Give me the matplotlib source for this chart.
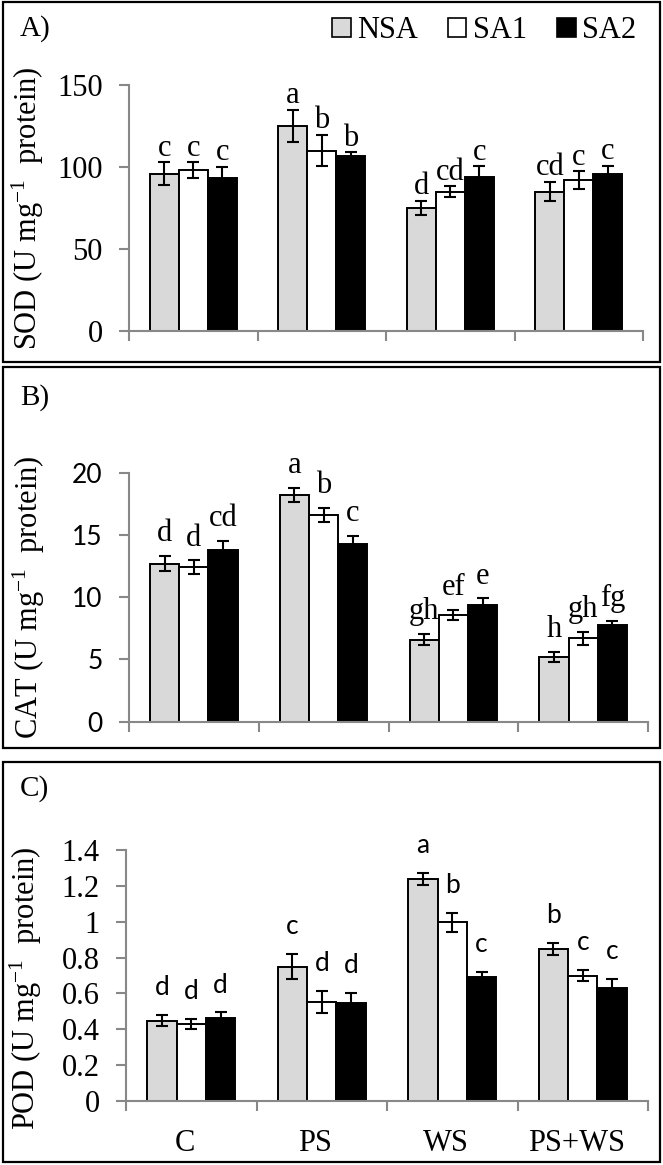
import matplotlib
matplotlib.use("Agg")
import matplotlib.pyplot as plt
from matplotlib.patches import Patch, Rectangle
import numpy as np

plt.rcParams['font.family'] = ['Liberation Serif', 'DejaVu Serif']
plt.rcParams['mathtext.fontset'] = 'custom'
plt.rcParams['mathtext.rm'] = 'Liberation Serif'
plt.rcParams['mathtext.it'] = 'Liberation Serif:italic'

treatments = ["C", "PS", "WS", "PS+WS"]
series = ["NSA", "SA1", "SA2"]

sod_mean = [[96, 125, 75, 85], [98, 110, 85, 92], [93, 107, 94, 96]]
sod_err = [[7, 10, 4.3, 6], [5, 9.5, 3.3, 5.3], [7, 2, 6.5, 4.7]]
sod_let = [["c", "a", "d", "cd"], ["c", "b", "cd", "c"], ["c", "b", "c", "c"]]

cat_mean = [[12.7, 18.2, 6.6, 5.2], [12.4, 16.6, 8.6, 6.7], [13.8, 14.3, 9.4, 7.8]]
cat_err = [[0.6, 0.55, 0.47, 0.43], [0.55, 0.55, 0.4, 0.54], [0.7, 0.6, 0.5, 0.3]]
cat_let = [["d", "a", "gh", "h"], ["d", "b", "ef", "gh"], ["cd", "c", "e", "fg"]]

pod_mean = [[0.448, 0.75, 1.238, 0.848], [0.43, 0.554, 0.997, 0.70], [0.465, 0.547, 0.69, 0.632]]
pod_err = [[0.032, 0.07, 0.033, 0.036], [0.03, 0.062, 0.053, 0.03], [0.03, 0.055, 0.03, 0.048]]
pod_let = [["d", "c", "a", "b"], ["d", "d", "b", "c"], ["d", "d", "c", "c"]]

colors = ["#d9d9d9", "white", "black"]
grey = "#888888"
sans = ["Lato", "DejaVu Sans"]
serif = ["Liberation Serif", "DejaVu Serif"]

W, H = 663, 1165
fig = plt.figure(figsize=(W / 100, H / 100), dpi=100)


def px_axes(left, right, top, bottom):
    return fig.add_axes([left / W, 1 - bottom / H, (right - left) / W, (bottom - top) / H])


def panel(ax, means, errs, lets, ymax, step, ylabel, tickfont, letfont, letoff, letsize, fmt):
    x = np.arange(len(treatments))
    w = 0.225
    for i in range(len(series)):
        ax.bar(x + (i - 1) * w, means[i], w, color=colors[i], edgecolor="black",
               linewidth=1.4, yerr=errs[i], capsize=4,
               error_kw=dict(elinewidth=1.5, capthick=1.5, ecolor="black"), zorder=2)
        for j in range(len(treatments)):
            ax.text(x[j] + (i - 1) * w, means[i][j] + errs[i][j] + letoff, lets[i][j],
                    ha="center", va="baseline", fontsize=letsize, family=letfont)
    ax.set_xlim(-0.5, len(treatments) - 0.5)
    ax.set_ylim(0, ymax)
    ticks = np.arange(0, ymax + step / 2, step)
    ax.set_yticks(ticks)
    ax.set_yticklabels([fmt(t) for t in ticks], family=tickfont,
                       fontsize=22 if tickfont == serif else 19)
    ax.set_xticks(np.arange(-0.5, len(treatments), 1.0))
    ax.set_xticklabels([])
    for s in ["top", "right"]:
        ax.spines[s].set_visible(False)
    for s in ["left", "bottom"]:
        ax.spines[s].set_color(grey)
        ax.spines[s].set_linewidth(1.5)
    ax.tick_params(axis="both", direction="out", length=7, width=1.5, color=grey, pad=12)
    ax.set_ylabel(ylabel, fontsize=22, family=serif)
    ax.patch.set_alpha(0)


def num(t):
    return "%g" % t


axA = px_axes(129, 643, 85, 331)
panel(axA, sod_mean, sod_err, sod_let, 150, 50, r"SOD (U mg$^{-1}$  protein)",
      serif, serif, 4, 22, lambda t: "%d" % t)
axA.yaxis.set_label_coords(-83 / 514, 0.5)

axB = px_axes(129, 648, 472.7, 721.7)
panel(axB, cat_mean, cat_err, cat_let, 20, 5, r"CAT (U mg$^{-1}$  protein)",
      sans, serif, 1.2, 22, lambda t: "%d" % t)
axB.yaxis.set_label_coords(-82 / 519, 0.5)

axC = px_axes(126, 648, 850, 1101)
panel(axC, pod_mean, pod_err, pod_let, 1.4, 0.2, r"POD (U mg$^{-1}$  protein)",
      serif, sans, 0.11, 19, num)
axC.yaxis.set_label_coords(-82 / 522, 0.45)
for j, t in enumerate(treatments):
    axC.text(j - 0.05, -0.17, t, transform=axC.get_xaxis_transform(), ha="center", va="center",
             fontsize=22, family=serif)

# panel frames and letters
for (top, bottom), lab, ly in zip([(2, 362), (367, 748), (762, 1162)], ["A)", "B)", "C)"], [29, 398, 789]):
    fig.patches.append(Rectangle((3 / W, 1 - bottom / H), 657 / W, (bottom - top) / H,
                                 transform=fig.transFigure, fill=False, edgecolor="black",
                                 linewidth=1.6))
    fig.text(20 / W, 1 - ly / H, lab, ha="left", va="center", fontsize=21, family=serif)

handles = [Patch(facecolor=colors[i], edgecolor="black", linewidth=1.2, label=series[i])
           for i in range(3)]
fig.legend(handles=handles, loc="upper right", bbox_to_anchor=(648 / W, 1 - 4 / H), ncol=3,
           frameon=False, fontsize=22, handlelength=0.6, handleheight=0.6, handletextpad=0.2,
           columnspacing=1.0, borderaxespad=0)

fig.savefig("out.png", dpi=100)
